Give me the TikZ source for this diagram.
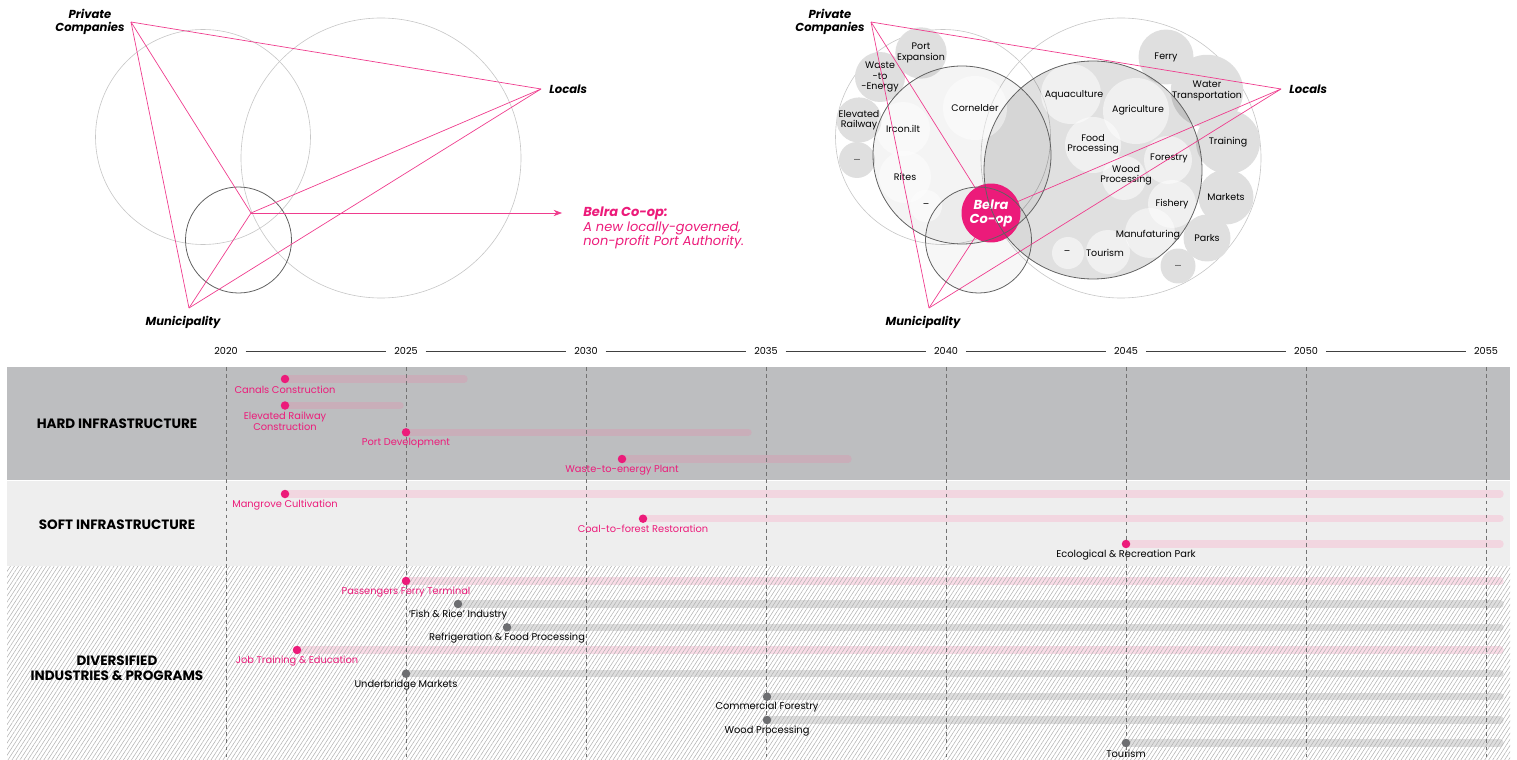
\documentclass[tikz,border=0pt]{standalone}
\usepackage{fontspec}
\setmainfont{Poppins}
\usetikzlibrary{arrows.meta,patterns.meta}

\definecolor{coopPink}{HTML}{EC1B7A}
\definecolor{hardBand}{HTML}{BDBEC0}
\definecolor{softBand}{HTML}{EEEEEE}
\definecolor{hardBar}{HTML}{C9AEB9}
\definecolor{softBar}{HTML}{F2D6E0}
\definecolor{divBar}{HTML}{FADCE7}
\definecolor{grayBar}{HTML}{DEDEDE}
\definecolor{dotGray}{HTML}{6D6E71}
\definecolor{bubGray}{HTML}{DFDFDF}

\newcommand\labfont{\fontsize{5.6}{6.2}\selectfont}
\newcommand\bubfont{\fontsize{5.4}{5.9}\selectfont}
\newcommand\actorfont{\fontsize{6.6}{7.1}\selectfont\bfseries\itshape}
\newcommand\sectfont{\fontsize{7.7}{8.6}\selectfont\bfseries}
\newcommand\yearfont{\fontsize{5.5}{6}\selectfont}

\tikzset{
  tie/.style={draw=coopPink!85, line width=0.4pt},
  ring/.style={draw=black!22, line width=0.35pt},
  darkring/.style={draw=black!62, line width=0.45pt},
  actor/.style={font=\actorfont, align=center, inner sep=0pt},
  bub/.style={circle, fill=bubGray, inner sep=0pt, align=center, font=\bubfont},
  inlab/.style={inner sep=0pt, align=center, font=\bubfont},
  yearlab/.style={font=\yearfont, inner sep=0pt, outer sep=4.5pt},
  sect/.style={font=\sectfont, align=center, inner sep=0pt},
  grid/.style={draw=black!55, line width=0.4pt, dash pattern=on 2.2pt off 1.8pt},
  hbar/.style={draw=hardBar, line width=4.2pt, line cap=round},
  sbar/.style={draw=softBar, line width=4.2pt, line cap=round},
  pbar/.style={draw=divBar, line width=4.2pt, line cap=round},
  gbar/.style={draw=grayBar, line width=4.2pt, line cap=round},
  pdot/.style={circle, fill=coopPink, inner sep=0pt, minimum size=0.17cm},
  gdot/.style={circle, fill=dotGray, inner sep=0pt, minimum size=0.17cm},
  plab/.style={font=\labfont, text=coopPink, inner sep=0pt, align=center},
  glab/.style={font=\labfont, text=black, inner sep=0pt, align=center}
}

\begin{document}
\begin{tikzpicture}[x=0.02cm,y=-0.02cm,>=Stealth]
\useasboundingbox (0,0) rectangle (1517,760);

% ---- stakeholders, before
\draw[ring] (203,137) circle[radius=107.5];
\draw[ring] (381,158) circle[radius=140];
\draw[darkring] (238.5,240) circle[radius=53];

\coordinate (pc) at (131,22);
\coordinate (lo) at (541,89);
\coordinate (mu) at (189,308);
\coordinate (ce) at (251,213);
\coordinate (ar) at (562,213);

\draw[tie] (pc) -- (lo);
\draw[tie] (pc) -- (mu);
\draw[tie] (pc) -- (ce);
\draw[tie] (ce) -- (lo);
\draw[tie] (mu) -- (lo);
\draw[tie] (mu) -- (ce);
\draw[tie,->] (ce) -- (ar);

\node[actor] (pcl) at (90,22) {Private\\Companies};
\node[actor, anchor=west] (lol) at (549,89) {Locals};
\node[actor] (mul) at (183,322) {Municipality};
\node[anchor=west, align=left, inner sep=0pt, text=coopPink, font=\fontsize{7.4}{8.4}\selectfont\itshape] (coop) at (583,228)
{\textbf{Belra Co-op:}\\A new locally-governed,\\non-profit Port Authority.};

% ---- stakeholders, after
\draw[ring] (943,137) circle[radius=107.5];
\draw[ring] (1121,158) circle[radius=140];

\node[bub, minimum size=0.88cm] (portx) at (921,53) {Port\\Expansion};
\node[bub, minimum size=1.0cm] (wte) at (880,77) {Waste\\-to\\-Energy};
\node[bub, minimum size=0.9cm] (erail) at (859,120) {Elevated\\Railway};
\node[bub, minimum size=0.72cm] (more1) at (857,160) {...};
\node[bub, minimum size=1.1cm] (ferry) at (1166,57) {Ferry};
\node[bub, minimum size=1.12cm] (water) at (1207,91) {Water\\Transportation};
\node[bub, minimum size=1.28cm] (train) at (1228,142) {Training};
\node[bub, minimum size=1.1cm] (market) at (1226,197) {Markets};
\node[bub, minimum size=0.94cm] (parks) at (1207,238) {Parks};
\node[bub, minimum size=0.7cm] (more2) at (1178,266) {...};

\fill[black, opacity=0.045] (962,155) circle[radius=89];
\fill[black, opacity=0.12] (1093,170) circle[radius=109];
\fill[black, opacity=0.03] (978.5,240) circle[radius=53];

\fill[white, opacity=0.45] (975,108) circle[radius=32];
\fill[white, opacity=0.45] (903,129) circle[radius=27];
\fill[white, opacity=0.45] (905,177) circle[radius=26];
\fill[white, opacity=0.45] (926,206) circle[radius=16];
\fill[white, opacity=0.5] (1071,94) circle[radius=30];
\fill[white, opacity=0.5] (1136,111) circle[radius=33];
\fill[white, opacity=0.5] (1093,145) circle[radius=28];
\fill[white, opacity=0.5] (1168,160) circle[radius=24];
\fill[white, opacity=0.5] (1124,178) circle[radius=22];
\fill[white, opacity=0.5] (1172,204) circle[radius=24];
\fill[white, opacity=0.5] (1150,233) circle[radius=25];
\fill[white, opacity=0.5] (1108,252) circle[radius=22];
\fill[white, opacity=0.5] (1068,253) circle[radius=16];

\node[inlab] (corn) at (975,108) {Cornelder};
\node[inlab] (ircon) at (903,129) {Ircon.ilt};
\node[inlab] (rites) at (905,177) {Rites};
\node[inlab] (more3) at (926,206) {–};
\node[inlab] (aqua) at (1074,95) {Aquaculture};
\node[inlab] (agri) at (1138,110) {Agriculture};
\node[inlab] (food) at (1093,144) {Food\\Processing};
\node[inlab] (forst) at (1169,158) {Forestry};
\node[inlab] (wood) at (1126,175) {Wood\\Processing};
\node[inlab] (fish) at (1172,204) {Fishery};
\node[inlab] (manu) at (1148,235) {Manufaturing};
\node[inlab] (tour) at (1105,253) {Tourism};
\node[inlab] (more4) at (1067,253) {–};

\coordinate (pc2) at (871,22);
\coordinate (lo2) at (1281,89);
\coordinate (mu2) at (929,308);
\coordinate (ce2) at (991,213);

\draw[tie] (pc2) -- (lo2);
\draw[tie] (pc2) -- (mu2);
\draw[tie] (pc2) -- (ce2);
\draw[tie] (ce2) -- (lo2);
\draw[tie] (mu2) -- (lo2);
\draw[tie] (mu2) -- (ce2);

\node[circle, fill=coopPink, minimum size=1.18cm, inner sep=0pt, align=center, text=white,
  font=\fontsize{7.4}{7.9}\selectfont\bfseries\itshape] (bc) at (ce2) {Belra\\Co-op};

\draw[darkring] (962,155) circle[radius=89];
\draw[darkring] (1093,170) circle[radius=109];
\draw[darkring] (978.5,240) circle[radius=53];

\node[actor] (pcl2) at (830,22) {Private\\Companies};
\node[actor, anchor=west] (lol2) at (1289,89) {Locals};
\node[actor] (mul2) at (923,322) {Municipality};

% ---- timeline
\node[yearlab] (y2020) at (226,351) {2020};
\node[yearlab] (y2025) at (406,351) {2025};
\node[yearlab] (y2030) at (586,351) {2030};
\node[yearlab] (y2035) at (766,351) {2035};
\node[yearlab] (y2040) at (946,351) {2040};
\node[yearlab] (y2045) at (1126,351) {2045};
\node[yearlab] (y2050) at (1306,351) {2050};
\node[yearlab] (y2055) at (1486,351) {2055};
\draw[black!75, line width=0.4pt] (y2020) -- (y2025);
\draw[black!75, line width=0.4pt] (y2025) -- (y2030);
\draw[black!75, line width=0.4pt] (y2030) -- (y2035);
\draw[black!75, line width=0.4pt] (y2035) -- (y2040);
\draw[black!75, line width=0.4pt] (y2040) -- (y2045);
\draw[black!75, line width=0.4pt] (y2045) -- (y2050);
\draw[black!75, line width=0.4pt] (y2050) -- (y2055);

\fill[hardBand] (7,367) rectangle (1510,480);
\fill[softBand] (7,481) rectangle (1510,566);

\coordinate (canal) at (285,379);   \coordinate (canalE) at (464,379);
\coordinate (rail) at (285,405.5);  \coordinate (railE) at (400,405.5);
\coordinate (port) at (406,432.3);  \coordinate (portE) at (748,432.3);
\coordinate (waste) at (622,459);   \coordinate (wasteE) at (848,459);
\coordinate (mang) at (285,494);    \coordinate (mangE) at (1500,494);
\coordinate (coal) at (643,518.7);  \coordinate (coalE) at (1500,518.7);
\coordinate (eco) at (1126,544);    \coordinate (ecoE) at (1500,544);
\coordinate (ferr) at (406,581);    \coordinate (ferrE) at (1500,581);
\coordinate (fsh) at (458,604);     \coordinate (fshE) at (1500,604);
\coordinate (refr) at (507,627.3);  \coordinate (refrE) at (1500,627.3);
\coordinate (job) at (297,650);     \coordinate (jobE) at (1500,650);
\coordinate (undr) at (406,673.7);  \coordinate (undrE) at (1500,673.7);
\coordinate (cfor) at (767,696.7);  \coordinate (cforE) at (1500,696.7);
\coordinate (wpro) at (767,720);    \coordinate (wproE) at (1500,720);
\coordinate (tours) at (1126,743);  \coordinate (toursE) at (1500,743);

\draw[hbar] (canal) -- (canalE);
\draw[hbar] (rail) -- (railE);
\draw[hbar] (port) -- (portE);
\draw[hbar] (waste) -- (wasteE);
\draw[sbar] (mang) -- (mangE);
\draw[sbar] (coal) -- (coalE);
\draw[sbar] (eco) -- (ecoE);
\draw[pbar] (ferr) -- (ferrE);
\draw[gbar] (fsh) -- (fshE);
\draw[gbar] (refr) -- (refrE);
\draw[pbar] (job) -- (jobE);
\draw[gbar] (undr) -- (undrE);
\draw[gbar] (cfor) -- (cforE);
\draw[gbar] (wpro) -- (wproE);
\draw[gbar] (tours) -- (toursE);

\path[pattern={Lines[angle=57,distance=1.9pt,line width=0.3pt]}, pattern color=black!30] (7,566) rectangle (1510,760);

\foreach \x in {226,406,...,1486}
  \draw[grid] (\x,367) -- (\x,760);

\node[sect] (hard) at (117,424) {HARD INFRASTRUCTURE};
\node[sect] (soft) at (117,525) {SOFT INFRASTRUCTURE};
\node[sect] (divr) at (117,668) {DIVERSIFIED\\INDUSTRIES \& PROGRAMS};

\node[pdot] (canalD) at (canal) {};
\node[pdot] (railD) at (rail) {};
\node[pdot] (portD) at (port) {};
\node[pdot] (wasteD) at (waste) {};
\node[pdot] (mangD) at (mang) {};
\node[pdot] (coalD) at (coal) {};
\node[pdot] (ecoD) at (eco) {};
\node[pdot] (ferrD) at (ferr) {};
\node[gdot] (fshD) at (fsh) {};
\node[gdot] (refrD) at (refr) {};
\node[pdot] (jobD) at (job) {};
\node[gdot] (undrD) at (undr) {};
\node[gdot] (cforD) at (cfor) {};
\node[gdot] (wproD) at (wpro) {};
\node[gdot] (toursD) at (tours) {};

\node[plab] (canalL) at (285,389.5) {Canals Construction};
\node[plab] (railL) at (285,421) {Elevated Railway\\Construction};
\node[plab] (portL) at (406,443.3) {Port Development};
\node[plab] (wasteL) at (622,470) {Waste-to-energy Plant};
\node[plab] (mangL) at (285,505) {Mangrove Cultivation};
\node[plab] (coalL) at (643,529) {Coal-to-forest Restoration};
\node[glab] (ecoL) at (1126,555) {Ecological \& Recreation Park};
\node[plab] (ferrL) at (406,591.7) {Passengers Ferry Terminal};
\node[glab] (fshL) at (458,615) {‘Fish \& Rice’ Industry};
\node[glab] (refrL) at (507,638) {Refrigeration \& Food Processing};
\node[plab] (jobL) at (297,661) {Job Training \& Education};
\node[glab] (undrL) at (406,685) {Underbridge Markets};
\node[glab] (cforL) at (767,707) {Commercial Forestry};
\node[glab] (wproL) at (767,731) {Wood Processing};
\node[glab] (toursL) at (1126,754) {Tourism};
\end{tikzpicture}
\end{document}
